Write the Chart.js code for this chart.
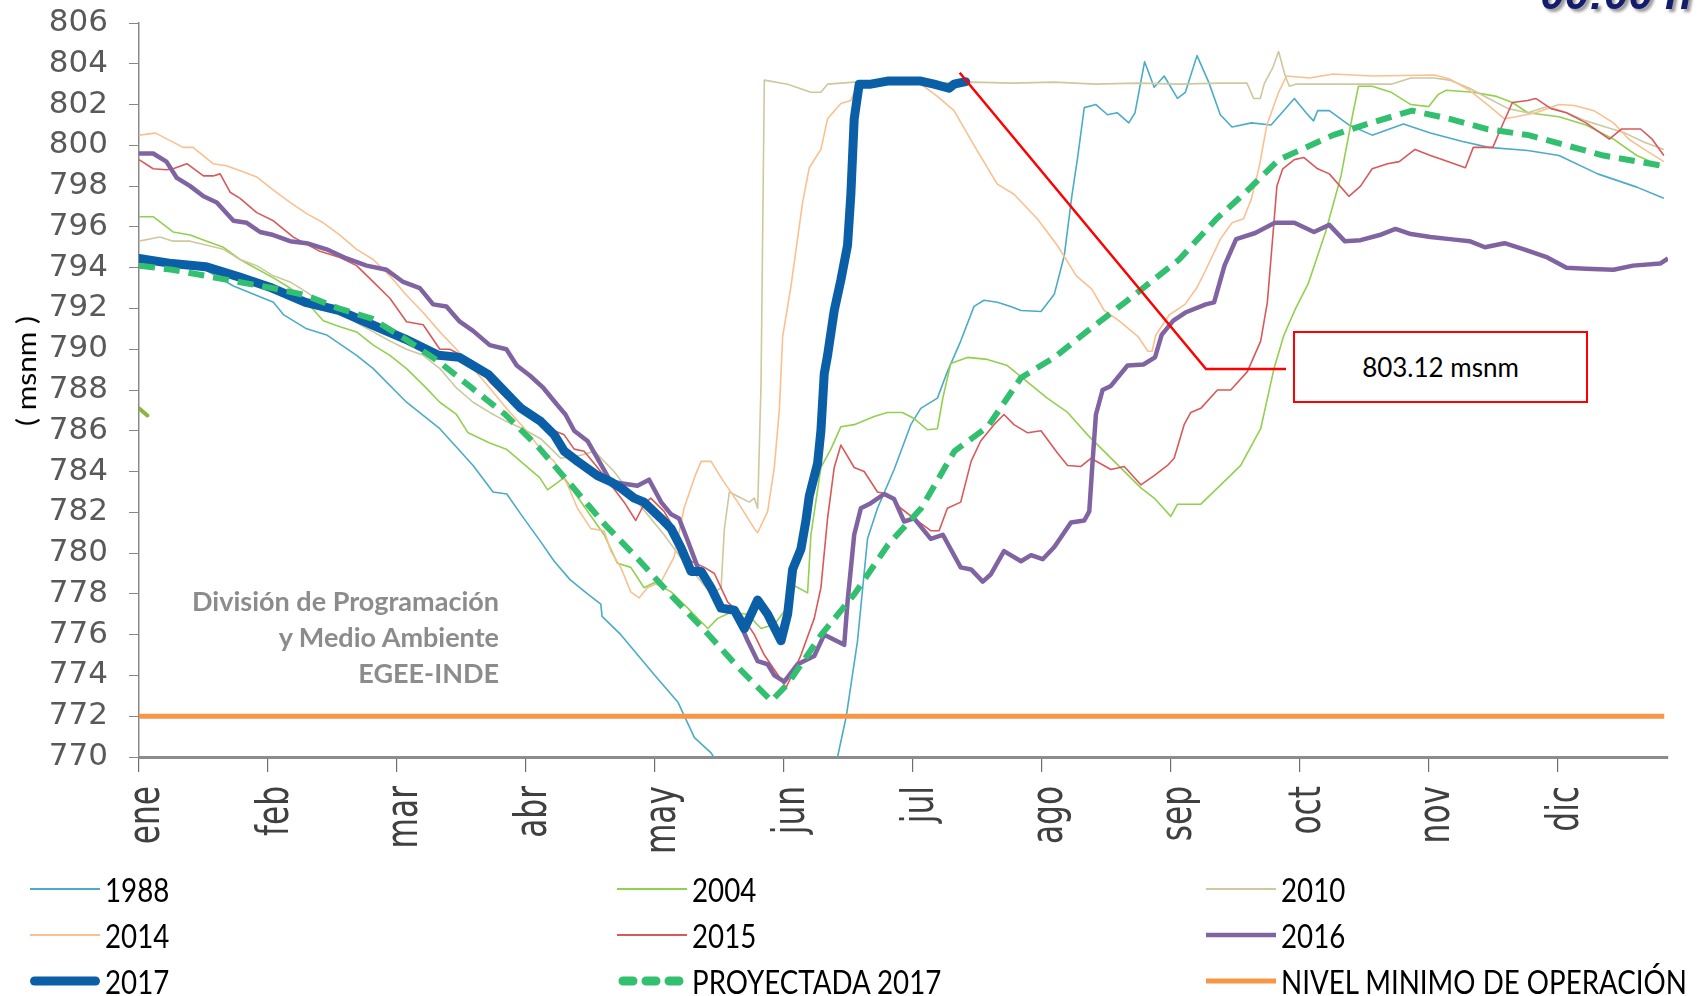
<!DOCTYPE html>
<html>
<head>
<meta charset="utf-8">
<script src="https://cdn.jsdelivr.net/npm/chart.js@4.4.1/dist/chart.umd.min.js"></script>
<style>
  html, body { margin: 0; padding: 0; background: #fff; }
  #wrap { position: relative; width: 1698px; height: 996px; overflow: hidden; }
  #wrap canvas { position: absolute; left: 0; top: 0; }
  .hora { position: absolute; right: 6px; top: -31px; font: italic bold 44px "Liberation Sans", Arial, sans-serif;
          color: #141c6e; text-shadow: 3px 3px 3px #9a9a9a; white-space: nowrap; }
  .ytitle { position: absolute; left: 26px; top: 371px; transform: translate(-50%, -50%) rotate(-90deg) scaleX(1.15);
            font: 26px Lato, sans-serif; color: #000; white-space: nowrap; }
  .firma { position: absolute; right: 1199px; top: 583px; text-align: right; font: bold 27px Lato, sans-serif;
           color: #8c8c8c; line-height: 36px; white-space: nowrap; }
  .callout { position: absolute; left: 1293px; top: 331px; width: 295px; height: 72px; box-sizing: border-box;
             border: 2.5px solid #ff0000; background: #fff; display: flex; align-items: center; justify-content: center;
             font: 26px Lato, sans-serif; color: #000; }
  .leg { position: absolute; height: 40px; display: flex; align-items: center; white-space: nowrap; }
  .leg svg { flex: none; }
  .leg span { display: inline-block; font: 33px Lato, sans-serif; color: #000; transform: scaleX(0.84);
              transform-origin: left center; margin-left: 5px; }
</style>
</head>
<body>
<div id="wrap">
  <canvas id="chart" width="1698" height="996"></canvas>
  <div class="hora">00:00 h</div>
  <div class="ytitle">( msnm )</div>
  <div class="firma">División de Programación<br>y Medio Ambiente<br>EGEE-INDE</div>
  <div class="callout">803.12 msnm</div>
  <div id="legend"></div>
</div>
<script>
// Month labels and the day of year where each one sits on the axis
const MONTHS = ['ene', 'feb', 'mar', 'abr', 'may', 'jun', 'jul', 'ago', 'sep', 'oct', 'nov', 'dic'];
const MONTH_DAYS = [0, 31, 62, 93, 124, 155, 186, 217, 248, 279, 310, 341];

// Reservoir level (msnm) by day of year: [day, level]
const s1988 = [[0,794.6],[8,794.3],[16,793.9],[22.7,793.1],[32.3,792.3],[34.7,791.7],[40.3,791.0],[45.1,790.7],[52.3,789.7],
  [56.3,789.05],[64.3,787.4],[72.3,786.1],[80.3,784.3],[85.1,783.0],[88.4,782.9],[91.8,781.9],[96.4,780.6],[99.8,779.6],
  [103.6,778.7],[107.8,778.0],[111,777.5],[111.3,776.9],[115.8,776.0],[123.8,774.05],[129.5,772.7],[133.5,770.95],
  [137.5,770.2],[140,769.4],[167,769.4],[167.9,770.0],[170,772.0],[172.7,775.7],[175.1,780.7],[177.5,782.2],[181.5,784.1],
  [185.5,786.3],[187.9,787.1],[191.9,787.6],[194.3,788.9],[197.5,790.4],[200.7,792.1],[203.1,792.4],[206.3,792.3],
  [209.5,792.1],[212,791.9],[216.8,791.85],[220,792.7],[222.4,794.6],[224.2,797.5],[225.6,799.4],[227.2,801.85],[230,802.0],
  [232.8,801.5],[235.1,801.6],[237.9,801.1],[239.4,801.6],[241.7,804.1],[244,802.85],[246.4,803.4],[249.6,802.3],
  [251.5,802.6],[254.3,804.4],[257.1,803.1],[259.9,801.5],[262.7,800.9],[267.4,801.1],[272.1,801.0],[277.7,802.3],
  [280.5,801.6],[282.3,801.2],[283.3,801.7],[286.1,801.7],[290.8,801.0],[296.4,800.5],[303.9,801.05],[310.4,800.6],
  [317.9,800.2],[324.4,799.9],[333.8,799.75],[341.3,799.5],[350.6,798.6],[360,797.95],[366.5,797.4]];

const s2004 = [[0,796.5],[3.4,796.5],[8.2,795.75],[12.3,795.6],[16.3,795.3],[20.3,795.0],[24.3,794.4],[28.3,793.95],
  [32.3,793.5],[36.3,793.0],[40.3,792.3],[44.3,791.4],[48.3,791.1],[52.3,790.85],[56.3,790.2],[60.3,789.7],[64.3,789.05],
  [68.3,788.25],[72.3,787.4],[76.3,786.8],[79.1,785.9],[84.3,785.4],[88.3,785.1],[92.3,784.4],[96.3,783.7],[98.2,783.1],
  [102.2,783.7],[107.8,782.05],[111.8,780.9],[115,779.5],[118.2,779.3],[121.4,778.3],[123.8,778.55],[127.9,778.1],
  [131.9,777.3],[136.7,776.3],[139.1,776.8],[142.3,777.1],[146.3,777.0],[149.5,776.3],[152.7,776.5],[155.1,777.15],
  [157.5,778.4],[160.7,778.05],[161.5,780.9],[163.9,784.2],[166.3,785.1],[168.7,786.2],[171.9,786.3],[176.7,786.7],
  [179.9,786.9],[183.5,786.9],[186.3,786.6],[189.5,786.05],[191.9,786.1],[193.2,787.6],[195.1,789.3],[199.1,789.6],
  [203.9,789.5],[208.7,789.2],[213.5,788.4],[218.3,787.6],[223.2,786.9],[228,785.8],[234.4,784.5],[240.8,783.2],
  [244,782.7],[248,781.8],[249.6,782.4],[255.2,782.4],[260,783.35],[264.8,784.3],[269.6,786.1],[272.8,789.05],
  [275.2,790.7],[278,792.0],[281,793.2],[285.2,795.75],[288.9,798.5],[291.7,801.5],[293.1,802.9],[296.4,802.9],
  [301,802.6],[305.7,802.0],[310,801.9],[312.3,802.5],[314.2,802.7],[320.7,802.6],[326.3,802.4],[330.1,802.1],
  [333.8,801.6],[341.3,801.4],[347.8,801.0],[354.4,800.3],[360,799.5],[365.6,799.0]];

const s2010 = [[0,795.3],[5,795.5],[8.2,795.3],[12.3,795.3],[16.3,795.1],[20.3,794.9],[24.3,794.4],[28.3,794.1],
  [32.3,793.6],[36.3,793.3],[40.3,792.8],[44.3,792.2],[48.3,791.8],[52.3,791.3],[56.3,790.85],[60.3,790.4],[64.3,790.0],
  [68.3,789.7],[72.3,789.05],[76.3,788.1],[80.3,787.4],[84.3,786.9],[88.3,786.45],[92.3,786.1],[96.6,785.6],
  [101.4,784.65],[106.2,784.8],[109.4,785.0],[114.2,784.0],[118.2,782.9],[122.2,781.9],[126.2,780.9],[130.3,779.75],
  [134.3,778.8],[137.5,778.0],[139.9,778.3],[140.7,781.2],[141.9,783.0],[144.7,782.7],[146.7,782.5],[147.9,782.7],
  [148.7,782.2],[149.5,788.2],[150.3,803.2],[155.9,803.0],[161.5,802.6],[163.9,802.6],[165.5,803.0],[171.9,803.1],
  [180,803.1],[190,803.05],[200,803.1],[210,803.05],[220,803.1],[230,803.0],[240,803.05],[250,803.0],[260,803.05],
  [266.3,803.05],[267.9,802.3],[269.5,802.3],[270.5,803.05],[272.5,803.8],[273.9,804.6],[275.5,803.4],[276.5,802.9],
  [278,803.0],[290,803.0],[301,803.0],[305.7,803.3],[311.3,803.3],[315,803.2],[319.8,802.8],[324.4,802.3],[329.1,801.8],
  [333.8,801.6],[338.5,801.9],[343.1,801.6],[347.8,801.2],[352.5,800.9],[357.2,800.6],[361.8,800.15],[366.5,799.8]];

const s2014 = [[0,800.5],[4,800.6],[10.6,799.9],[13,799.9],[17.8,799.1],[21,799.0],[25,798.7],[28.3,798.45],[32.3,797.8],
  [36.3,797.2],[40.3,796.65],[44.3,796.2],[48.3,795.6],[52.3,794.9],[56.3,794.4],[60.3,793.6],[64.3,792.65],[68.3,791.8],
  [72.3,790.85],[76.3,790.0],[80.3,789.05],[84.3,788.1],[88.3,787.1],[92.3,786.2],[96.6,785.1],[99.8,784.5],[103,783.35],
  [105.4,782.2],[108.6,781.2],[111.8,781.1],[113.4,780.1],[115.8,779.3],[118.2,778.1],[120.2,777.8],[122.2,778.3],
  [125.5,778.6],[128.6,779.8],[131,782.2],[133.5,783.7],[135.1,784.5],[137.5,784.5],[139.9,783.7],[143.9,782.5],
  [147.9,781.2],[148.7,781.0],[151.1,782.05],[152.7,784.2],[153.9,787.0],[154.7,790.6],[156.7,793.1],[159.5,797.2],
  [161.1,798.9],[163.9,799.8],[165.5,801.3],[168.7,802.05],[171.1,802.2],[172.7,803.0],[180,803.1],[187.9,803.0],
  [191.9,802.4],[195.9,801.7],[200.7,800.0],[206.3,798.1],[210.3,797.6],[215.9,796.4],[220.7,795.1],[225.3,793.6],
  [229,792.95],[232,791.9],[235.5,791.4],[240.2,790.6],[242.5,789.9],[243.5,789.9],[244.4,790.7],[247.7,791.7],
  [251.4,792.2],[254.2,793.0],[256.2,793.8],[259.9,795.4],[262.7,796.2],[265.5,796.4],[267.4,797.4],[269.3,799.0],
  [271.1,801.0],[273.9,802.6],[275.8,803.4],[281.4,803.3],[287,803.5],[296.4,803.4],[311.3,803.45],[315.1,803.25],
  [319.8,802.7],[324.4,801.95],[328.2,801.3],[331,801.4],[335.7,801.6],[341.3,802.0],[345,801.95],[349.7,801.7],
  [354.4,801.1],[358.1,800.3],[361.8,799.8],[366.5,799.2]];

const s2015 = [[0,799.3],[3.4,798.85],[6.6,798.8],[8.2,798.85],[11.5,799.1],[15.5,798.5],[17.8,798.5],[19.5,798.6],
  [21.9,797.7],[24.3,797.4],[28.3,796.7],[32.3,796.3],[37.1,795.5],[43.5,794.8],[48.3,794.5],[52.3,794.1],[56.3,793.3],
  [60.3,792.5],[64.3,791.35],[68.3,791.2],[72.3,790.0],[74.7,790.0],[80.3,789.4],[84.3,788.4],[88.3,787.6],[92,787.3],
  [95,786.8],[99.8,786.0],[102.2,785.8],[104.6,785.1],[107,785.0],[110.2,784.2],[113.4,783.35],[116.6,782.5],
  [119.4,781.6],[121.4,782.4],[123,782.7],[126.2,782.05],[129.5,780.9],[132.7,779.6],[135.9,779.3],[138.3,779.0],
  [141.5,777.6],[144.7,777.0],[147.9,776.0],[150.3,775.0],[153.5,774.05],[155.5,773.4],[156.7,773.9],[159.1,775.0],
  [162.3,776.8],[163.9,778.3],[165.5,781.7],[167.1,784.2],[168.7,785.3],[171.9,784.2],[174.3,784.0],[177.5,783.0],
  [179.9,782.9],[183.1,782.2],[186.3,781.7],[190.3,781.1],[192.3,781.1],[194.3,782.2],[197.5,782.5],[200,784.5],
  [202.3,785.5],[205.5,786.3],[207.9,786.8],[210.3,786.3],[213.6,785.9],[216.8,786.0],[220.8,784.9],[223.2,784.3],
  [226.4,784.25],[228.8,784.65],[233.6,784.1],[236.8,784.25],[240.8,783.35],[244,783.8],[247.2,784.3],[248.8,784.65],
  [251.2,786.3],[252.8,786.9],[255.2,787.1],[259.2,788.0],[262.4,788.0],[266.4,788.9],[269.6,790.4],[271.2,792.3],
  [272.6,795.75],[273.5,798.0],[274.9,798.85],[277.7,799.3],[280,799.4],[283.3,798.85],[286.1,798.6],[290.8,797.5],
  [293.6,798.0],[296.4,798.85],[300.1,799.1],[302.9,799.2],[306.7,799.8],[310.4,799.5],[313.2,799.3],[318.8,798.9],
  [320.7,799.9],[325.4,799.9],[327.7,801.0],[330.1,802.1],[333.8,802.2],[335.7,802.3],[339.4,801.8],[343.1,801.6],
  [347.8,801.1],[353.4,800.3],[356.3,800.8],[360.9,800.8],[363.7,800.3],[366.5,799.5]];

const s2016 = [[0,799.6],[3.4,799.6],[6.6,799.2],[9.1,798.4],[12.3,798.0],[15.5,797.5],[18.7,797.2],[22.7,796.3],
  [25.9,796.2],[29.1,795.75],[32.3,795.6],[36.3,795.3],[40.3,795.2],[45.1,794.9],[49.9,794.45],[54.7,794.1],[59.5,793.9],
  [63.5,793.3],[67.5,793.0],[70.7,792.2],[73.9,792.1],[77.1,791.35],[80.3,790.9],[84.3,790.2],[88.3,790.0],[90.8,789.2],
  [94,788.7],[97.2,788.1],[100.4,787.3],[102.5,786.8],[104.6,786.0],[107.8,785.5],[110.2,784.65],[113.4,783.5],
  [116.6,783.4],[119.8,783.3],[122.6,783.6],[125.5,782.5],[127.9,781.9],[129.8,781.7],[131.9,780.6],[134.3,779.3],
  [136.7,778.5],[139.9,777.3],[143.1,777.15],[146.3,775.7],[148.7,774.7],[151.1,774.55],[152.7,774.0],[155.1,773.7],
  [158.3,774.55],[162.3,774.95],[164.7,776.0],[169.5,775.5],[170.3,777.6],[171.9,780.9],[173.5,782.2],[175.9,782.45],
  [179.1,782.9],[181.5,782.65],[183.9,781.55],[186.3,781.7],[190.3,780.7],[193.2,780.9],[197.5,779.3],[200,779.2],
  [202.8,778.6],[204.7,778.95],[207.9,780.1],[212,779.6],[214.4,779.9],[217.2,779.7],[220,780.3],[224,781.5],
  [227.2,781.6],[228.4,782.05],[229.2,784.5],[230,786.8],[231.6,788.0],[233.6,788.2],[237.6,789.2],[241.4,789.25],
  [244.2,789.6],[245.8,790.7],[248.6,791.4],[251.5,791.8],[256.4,792.2],[258.4,792.3],[260.9,794.1],[263.7,795.4],
  [268.3,795.7],[273,796.2],[277.7,796.2],[282.4,795.75],[286.1,796.1],[289.8,795.3],[293.6,795.35],[298.2,795.6],
  [302,795.9],[305.7,795.65],[310.4,795.5],[315.1,795.4],[319.8,795.3],[323.5,795.0],[328.2,795.2],[332.9,794.9],
  [338.5,794.5],[343.1,794.0],[347.8,793.95],[354.4,793.9],[359.1,794.1],[365.6,794.2],[367.5,794.45]];

const s2017 = [[0,794.45],[8,794.2],[16,794.05],[24,793.55],[32,793.0],[40,792.3],[48,791.9],[56,791.2],[64,790.5],
  [72,789.7],[77,789.6],[84,788.75],[91.8,787.1],[96.6,786.45],[99.8,785.8],[102.2,785.0],[105.4,784.5],[110.2,783.8],
  [113.4,783.5],[115.8,783.2],[119,782.7],[121.4,782.5],[125.5,781.7],[127.9,781.2],[130.3,780.25],[132.7,779.1],
  [135.1,779.1],[137.5,778.3],[139.9,777.3],[143.1,777.2],[145.5,776.3],[148.7,777.7],[151.1,777.0],[154.3,775.7],
  [155.9,777.0],[157.1,779.2],[159.1,780.2],[160.3,781.6],[161.1,782.8],[163.1,784.4],[163.9,786.0],[164.7,788.8],
  [165.5,789.7],[167.1,791.9],[168.7,793.4],[170.3,795.1],[171.1,797.6],[171.9,801.3],[173.1,803.0],[175.9,803.0],
  [179.9,803.15],[187.9,803.15],[191.1,803.0],[194.7,802.8],[195.9,803.0],[198.7,803.12]];

const sProyectada = [[0,794.1],[8,793.9],[16,793.6],[24,793.3],[32,793.0],[40,792.65],[48,792.0],[56,791.5],[64,790.5],
  [72,789.4],[80,788.1],[88,786.8],[96,785.2],[104,783.3],[112,781.4],[120,779.7],[128,777.9],[136,776.2],[144,774.4],
  [152,772.75],[156,773.6],[164,776.0],[172,778.0],[180,780.4],[188,782.2],[196,785.0],[204,786.2],[212,788.6],
  [220,789.6],[228,790.9],[237,792.3],[250,794.4],[259,796.4],[266,797.7],[274,799.3],[287,800.5],[296,801.1],
  [306,801.7],[315,801.3],[324,800.8],[334,800.5],[343,800.0],[352,799.5],[366,799.0]];

const sNivelMinimo = [[0,772],[366.6,772]];
const sInicio = [[0,787.1],[2,786.75]];

const xy = s => s.map(([x, y]) => ({ x, y }));

// Series in drawing order (later ones are painted on top)
const SERIES = [
  { label: '1988', data: s1988, color: '#4bacc6', width: 1.6 },
  { label: '2004', data: s2004, color: '#92d050', width: 1.6 },
  { label: '2010', data: s2010, color: '#cdc89e', width: 1.6 },
  { label: '2014', data: s2014, color: '#fac090', width: 1.6 },
  { label: '2015', data: s2015, color: '#d9595a', width: 1.6 },
  { label: '2016', data: s2016, color: '#8064a2', width: 4.5 },
  { label: '2017', data: s2017, color: '#0a5fa6', width: 9, cap: 'round' },
  { label: 'PROYECTADA 2017', data: sProyectada, color: '#33bf70', width: 6, dash: [16, 9] },
  { label: 'NIVEL MINIMO DE OPERACIÓN', data: sNivelMinimo, color: '#f79646', width: 5 },
  { label: '', data: sInicio, color: '#8db43f', width: 4, cap: 'round', hidden: true }
];

const datasets = SERIES.map((s, i) => ({
  label: s.label,
  data: xy(s.data),
  borderColor: s.color,
  backgroundColor: s.color,
  borderWidth: s.width,
  borderDash: s.dash || [],
  borderCapStyle: s.cap || 'butt',
  borderJoinStyle: 'round',
  pointRadius: 0,
  tension: 0,
  fill: false,
  clip: 0,
  order: SERIES.length - i
}));

// Rotated month names under the axis, narrow like the original labels
const monthLabels = {
  id: 'monthLabels',
  afterDraw(chart) {
    const { ctx, scales: { x } } = chart;
    ctx.save();
    ctx.fillStyle = '#404040';
    ctx.font = '44px "DejaVu Sans"';
    ctx.textAlign = 'right';
    ctx.textBaseline = 'alphabetic';
    MONTH_DAYS.forEach((d, i) => {
      ctx.save();
      ctx.translate(x.getPixelForValue(d) + 20, 786);
      ctx.rotate(-Math.PI / 2);
      ctx.scale(0.71, 1);
      ctx.fillText(MONTHS[i], 0, 0);
      ctx.restore();
    });
    ctx.restore();
  }
};

// Red leader line from the last 2017 reading to the value box
const callout = {
  id: 'callout',
  afterDatasetsDraw(chart) {
    const { ctx, scales: { x, y } } = chart;
    const last = s2017[s2017.length - 1];
    const px = x.getPixelForValue(last[0]) - 6;
    const py = y.getPixelForValue(last[1]) - 9;
    ctx.save();
    ctx.strokeStyle = '#ff0000';
    ctx.lineWidth = 2.5;
    ctx.beginPath();
    ctx.moveTo(px, py);
    ctx.lineTo(1206, 369);
    ctx.lineTo(1286, 369);
    ctx.stroke();
    ctx.restore();
  }
};

new Chart(document.getElementById('chart'), {
  type: 'line',
  data: { datasets },
  plugins: [monthLabels, callout],
  options: {
    responsive: false,
    animation: false,
    events: [],
    layout: { padding: { top: 23, right: 30, left: 0, bottom: 0 } },
    plugins: { legend: { display: false }, tooltip: { enabled: false } },
    scales: {
      x: {
        type: 'linear',
        min: 0,
        max: 367.5,
        afterBuildTicks(scale) { scale.ticks = MONTH_DAYS.map(v => ({ value: v })); },
        ticks: { display: false },
        grid: { drawOnChartArea: false, tickLength: 15, color: '#6f6f6f', lineWidth: 1.2 },
        border: { color: '#8c8c8c', width: 3 },
        afterFit(scale) { scale.height = 239; scale.paddingLeft = 0; scale.paddingRight = 0; }
      },
      y: {
        min: 770,
        max: 806,
        ticks: { stepSize: 2, color: '#595959', font: { family: 'DejaVu Sans', size: 31 }, padding: 21 },
        grid: { drawOnChartArea: false, tickLength: 10, color: '#868686' },
        border: { color: '#8a8a8a', width: 1.5 },
        afterFit(scale) { scale.width = 139; scale.paddingTop = 0; scale.paddingBottom = 0; }
      }
    }
  }
});

// Legend: three columns, three rows
const LEGEND_COLS = [30, 617, 1206];
const LEGEND_ROWS = [889, 935, 981];
const legendBox = document.getElementById('legend');
SERIES.filter(s => !s.hidden).forEach((s, i) => {
  const item = document.createElement('div');
  item.className = 'leg';
  item.style.left = LEGEND_COLS[i % 3] + 'px';
  item.style.top = (LEGEND_ROWS[Math.floor(i / 3)] - 20) + 'px';
  const w = Math.max(s.width, 2.2);
  let line;
  if (s.dash) {
    line = `<line x1="6" y1="10" x2="66" y2="10" stroke="${s.color}" stroke-width="${w + 3}" stroke-linecap="round" stroke-dasharray="10 13"/>`;
  } else {
    const cap = s.cap === 'round' ? 'round' : 'butt';
    const pad = cap === 'round' ? w / 2 : 0;
    line = `<line x1="${pad}" y1="10" x2="${70 - pad}" y2="10" stroke="${s.color}" stroke-width="${w}" stroke-linecap="${cap}"/>`;
  }
  item.innerHTML = `<svg width="70" height="20">${line}</svg><span>${s.label}</span>`;
  legendBox.appendChild(item);
});
</script>
</body>
</html>
